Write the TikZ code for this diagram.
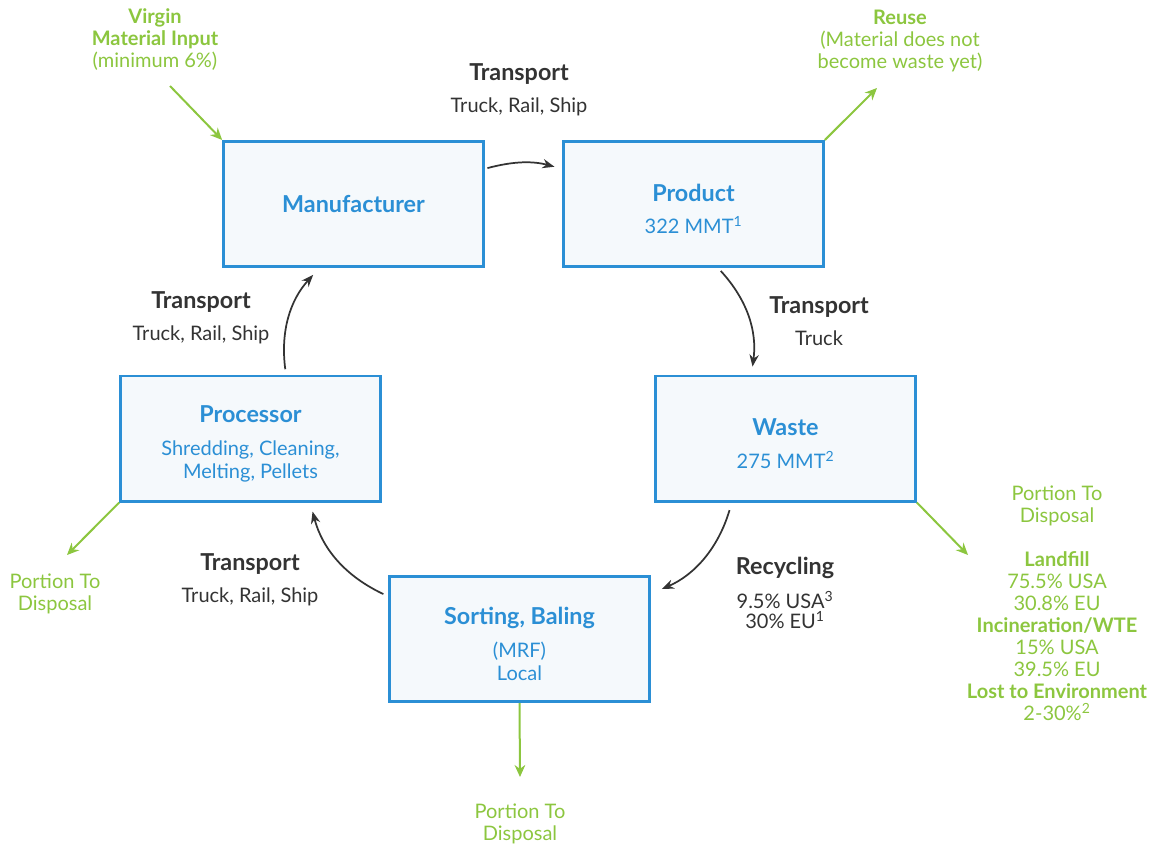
\documentclass[tikz,border=0pt]{standalone}
\usepackage{fontspec}
\setmainfont{Lato}
\usetikzlibrary{arrows.meta}

\definecolor{boxblue}{HTML}{2B8FD5}
\definecolor{boxfill}{HTML}{F5F9FC}
\definecolor{leafgreen}{HTML}{8CC63F}
\definecolor{inkgray}{HTML}{333333}

\tikzset{
  stage/.style={draw=boxblue, fill=boxfill, line width=2pt, minimum width=195pt,
    minimum height=94pt, align=center, text=boxblue, font=\fontsize{15}{17.25}\selectfont},
  flowlabel/.style={align=center, text=inkgray, font=\fontsize{15}{17.25}\selectfont},
  greenlabel/.style={align=center, text=leafgreen, font=\fontsize{15}{16.5}\selectfont},
  loopflow/.style={-{Stealth[length=9pt,width=7pt]}, inkgray, line width=1.3pt},
  feed/.style={-{Stealth[length=9pt,width=8pt]}, leafgreen, line width=1.5pt},
}
\newcommand{\ttl}[1]{{\fontsize{17.5}{17.25}\selectfont\bfseries #1}}
% title with a taller first line, so the block sits a bit low in the box
\newcommand{\lowttl}[1]{\ttl{#1}\rule{0pt}{20.5pt}}

\begin{document}
\begin{tikzpicture}[x=0.75pt,y=-0.75pt]
  \useasboundingbox (0,0) rectangle (1151,846);

  % the five stages of the loop
  \node[stage] (manuf) at (353.5,204) {\ttl{Manufacturer}};
  \node[stage] (product) at (693.5,204) {\lowttl{Product}\\[7pt]322 MMT\textsuperscript{1}};
  \node[stage] (waste) at (785.5,438.5) {\lowttl{Waste}\\[7pt]275 MMT\textsuperscript{2}};
  \node[stage] (sorting) at (519.5,639) {\lowttl{Sorting, Baling}\\[7pt](MRF)\\Local};
  \node[stage] (proc) at (250.5,438.5) {\lowttl{Processor}\\[7pt]Shredding, Cleaning,\\Melting, Pellets};

  % transport labels
  \node[flowlabel] (tr1) at (519,90) {\ttl{Transport}\\[7pt]Truck, Rail, Ship};
  \node[flowlabel] (tr2) at (819,321) {\ttl{Transport}\\[7pt]Truck};
  \node[flowlabel] (recyc) at (785,593) {\ttl{Recycling}\\[8pt]9.5\% USA\textsuperscript{3}\\[-2pt]30\% EU\textsuperscript{1}};
  \node[flowlabel] (tr3) at (250,580) {\ttl{Transport}\\[7pt]Truck, Rail, Ship};
  \node[flowlabel] (tr4) at (201,318) {\ttl{Transport}\\[7pt]Truck, Rail, Ship};

  % the loop itself
  \draw[loopflow, shorten <=2pt, shorten >=6pt] (manuf.15) to[bend left=15] (product.165);
  \draw[loopflow, shorten <=3pt, shorten >=6pt] (product.-69) to[bend left=25] (waste.118);
  \draw[loopflow, shorten <=6pt, shorten >=9pt] (waste.230) to[bend left=25] (sorting.19);
  \draw[loopflow, shorten <=4pt, shorten >=7pt] (sorting.162) to[bend left=25] (proc.-47);
  \draw[loopflow, shorten <=4pt, shorten >=7pt] (proc.61) to[bend left=25] (manuf.-118);

  % green inputs and outputs
  \node[greenlabel] (virgin) at (155,40) {\textbf{Virgin}\\\textbf{Material Input}\\(minimum 6\%)};
  \node[greenlabel] (reuse) at (900,40.5) {\textbf{Reuse}\\(Material does not\\become waste yet)};
  \node[greenlabel] (dispL) at (55,593.5) {Portion To\\Disposal};
  \node[greenlabel] (dispB) at (520,824) {Portion To\\Disposal};
  \node[greenlabel] (dispR) at (1057,603.5) {Portion To\\Disposal\\[16.5pt]\textbf{Landfill}\\75.5\% USA\\30.8\% EU\\
    \textbf{Incineration/WTE}\\15\% USA\\39.5\% EU\\\textbf{Lost to Environment}\\2-30\%\textsuperscript{2}};

  \coordinate (vin) at (170,86);
  \coordinate (reuseend) at (877,88);
  \coordinate (dispLend) at (67,555);
  \coordinate (dispBend) at (520,777);
  \coordinate (dispRend) at (968,555);

  \draw[feed] (vin) -- (manuf.north west);
  \draw[feed] (product.north east) -- (reuseend);
  \draw[feed] (proc.south west) -- (dispLend);
  \draw[feed] (sorting.south) -- (dispBend);
  \draw[feed] (waste.south east) -- (dispRend);
\end{tikzpicture}
\end{document}
